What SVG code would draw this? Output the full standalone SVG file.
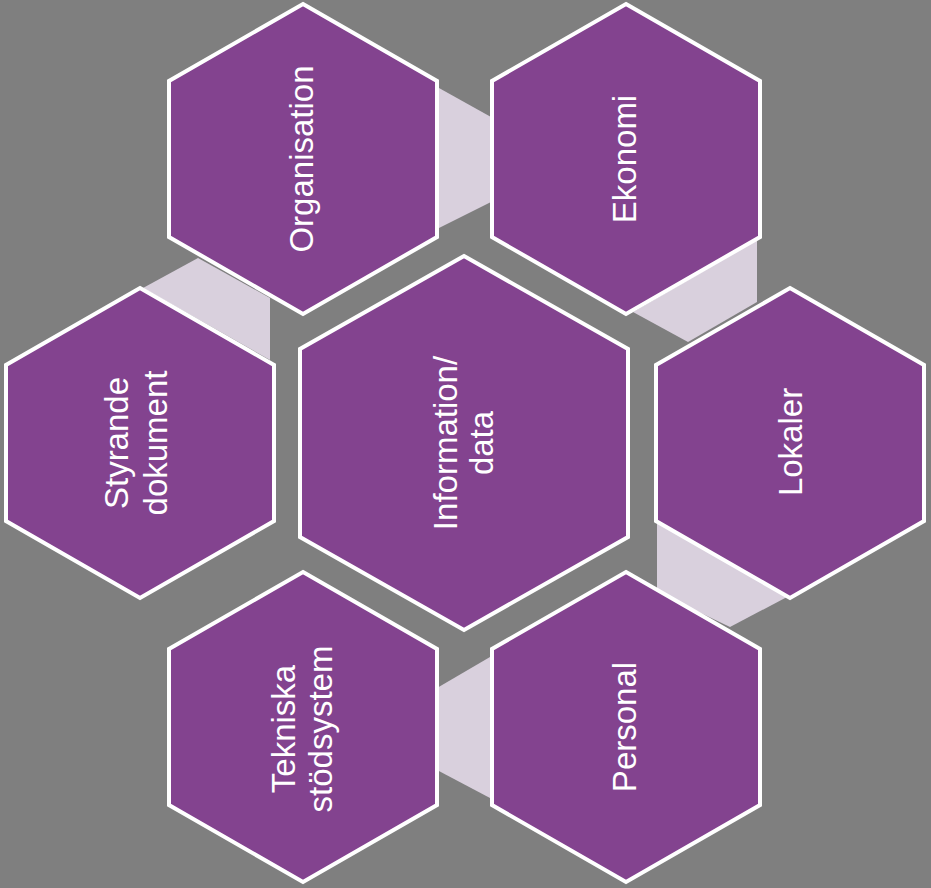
<svg xmlns="http://www.w3.org/2000/svg" width="931" height="888" viewBox="0 0 931 888">
<style>
.hex{fill:#83438F;stroke:#FFFFFF;stroke-width:4;stroke-linejoin:miter}
.con{fill:#D9D0DD;stroke:none}
.lbl{fill:#FFFFFF;font-family:"Liberation Sans",Arial,sans-serif;font-size:33px;text-anchor:middle}
</style>
<rect x="0" y="0" width="931" height="888" fill="#7F7F7F"/>
<g id="connectors">
<polygon class="con" points="439,88 491,117 491,202 439,228"/>
<polygon class="con" points="633,312 757,240 757,302 688,342"/>
<polygon class="con" points="657,523 787,597 730,627 657,592"/>
<polygon class="con" points="437,688 490,657 490,798 437,770"/>
<polygon class="con" points="143,288 198,258 270,298 270,360"/>
</g>
<g id="organisation">
<polygon class="hex" points="303,4 437,81 437,237 303,314 169,237 169,81"/>
<g transform="translate(303,159) rotate(-90)"><text class="lbl" x="0" y="10">Organisation</text></g>
</g>
<g id="ekonomi">
<polygon class="hex" points="626,4 760,81 760,237 626,314 492,237 492,81"/>
<g transform="translate(626,159) rotate(-90)"><text class="lbl" x="0" y="10">Ekonomi</text></g>
</g>
<g id="lokaler">
<polygon class="hex" points="790,288 924,365 924,521 790,598 656,521 656,365"/>
<g transform="translate(790,442) rotate(-90)"><text class="lbl" x="0" y="12">Lokaler</text></g>
</g>
<g id="personal">
<polygon class="hex" points="626,572 760,649 760,805 626,882 492,805 492,649"/>
<g transform="translate(626,727) rotate(-90)"><text class="lbl" x="0" y="10">Personal</text></g>
</g>
<g id="tekniska">
<polygon class="hex" points="303,572 437,649 437,805 303,882 169,805 169,649"/>
<g transform="translate(303,729) rotate(-90)"><text class="lbl" x="0" y="-8">Tekniska</text><text class="lbl" x="0" y="29">stödsystem</text></g>
</g>
<g id="styrande">
<polygon class="hex" points="140,288 274,365 274,521 140,598 6,521 6,365"/>
<g transform="translate(140,443) rotate(-90)"><text class="lbl" x="0" y="-12">Styrande</text><text class="lbl" x="0" y="27">dokument</text></g>
</g>
<g id="information">
<polygon class="hex" points="464,256 628,349 628,537 464,630 300,537 300,349"/>
<g transform="translate(464,443) rotate(-90)"><text class="lbl" x="0" y="-7">Information/</text><text class="lbl" x="0" y="29">data</text></g>
</g>
</svg>
